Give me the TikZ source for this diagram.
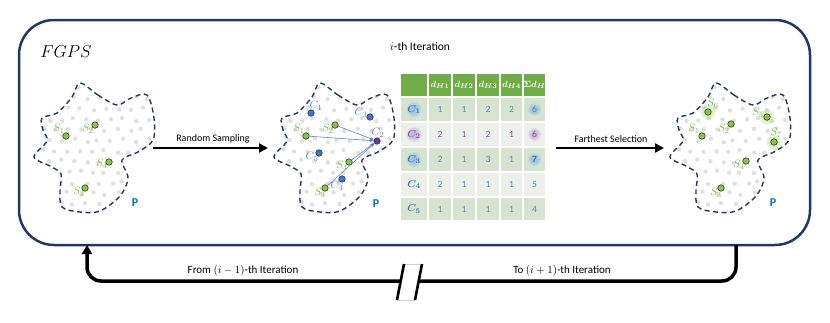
\documentclass[tikz,border=0pt]{standalone}
\usepackage{fontspec}
\setmainfont{Carlito}
\usetikzlibrary{arrows.meta}
\definecolor{navy}{HTML}{1F3864}
\definecolor{ptgreen}{HTML}{8CC63F}
\definecolor{lblgreen}{HTML}{7DB843}
\definecolor{ptblue}{HTML}{4472C4}
\definecolor{lblblue}{HTML}{5A82CC}
\definecolor{ptpurple}{HTML}{7030A0}
\definecolor{lblpurple}{HTML}{9460C0}
\definecolor{hdrgreen}{HTML}{70AD47}
\definecolor{rowdark}{HTML}{D5E3CF}
\definecolor{rowlight}{HTML}{EBF1E9}
\definecolor{numblue}{HTML}{5B84C8}
\definecolor{numpurple}{HTML}{8A4FB5}
\definecolor{pblue}{HTML}{0070C0}
\definecolor{dotgray}{HTML}{E0E0E0}
\definecolor{glowblue}{HTML}{7FB6EA}
\definecolor{glowpurple}{HTML}{B8A0CC}
\definecolor{glowgreen}{HTML}{B5DC8C}
\newcommand{\blobpath}{plot[smooth cycle, tension=0.55] coordinates {(80,83) (98,95) (117,105) (131,98) (147,95) (154,118) (153,140) (138,152) (122,160) (128,178) (120,196) (100,211) (80,212) (62,207) (60,190) (61,174) (50,166) (34,157) (47,141) (43,130) (42,118) (57,113) (72,97)}}
\newcommand{\myglow}[3]{\foreach \gk in {1,0.85,0.7,0.55,0.4}{\fill[#2, opacity=0.2] (#1) circle[radius={#3*\gk*1pt}];}}
\newcommand{\blobdots}{%
  \pgfmathsetseed{11}%
  \foreach \row in {0,...,12}{\foreach \col in {0,...,10}{%
    \pgfmathsetmacro\px{30+\col*12.5+mod(\row,2)*6+2.2*rand}%
    \pgfmathsetmacro\py{88+\row*10.5+2*rand}%
    \fill[dotgray] (\px,\py) circle[radius=2.2pt];}}}
\tikzset{
  spt/.style={circle, fill=ptgreen, draw=black!80, line width=0.6pt, inner sep=0pt, minimum size=6.5pt},
  cpt/.style={circle, fill=ptblue, draw=navy, line width=0.6pt, inner sep=0pt, minimum size=6.5pt},
  ppt/.style={circle, fill=ptpurple, draw=navy, line width=0.6pt, inner sep=0pt, minimum size=6.5pt},
  slbl/.style={text=lblgreen, font=\fontsize{11}{11}\selectfont, inner sep=0pt},
  clbl/.style={text=lblblue, font=\fontsize{11}{11}\selectfont, inner sep=0pt},
  plbl/.style={text=pblue, font=\fontsize{12}{12}\selectfont, inner sep=0pt},
  outline/.style={draw=navy, line width=1.4pt, dash pattern=on 5pt off 3.5pt},
  conn/.style={draw=lblblue, line width=0.6pt, -{Stealth[length=4pt,width=3.5pt]}},
  bigarrow/.style={draw=black, line width=2.5pt, -{Triangle[length=9pt,width=9pt]}},
  steptext/.style={font=\fontsize{10}{10}\selectfont, inner sep=0pt},
  hdr/.style={text=white, font=\boldmath\fontsize{9.5}{10}\selectfont, inner sep=0pt},
  num/.style={font=\fontsize{9.5}{10}\selectfont, inner sep=0pt},
  rowlbl/.style={text=ptblue, font=\boldmath\fontsize{10}{10}\selectfont, inner sep=0pt},
  fbline/.style={draw=black, line width=3.5pt},
  fbtext/.style={font=\fontsize{11}{11}\selectfont, inner sep=0pt}
}
\newcommand{\tabrow}[8]{%
  \node[num, text=#3] (#1a) at (440,#2) {#4};
  \node[num, text=#3] (#1b) at (464,#2) {#5};
  \node[num, text=#3] (#1c) at (488,#2) {#6};
  \node[num, text=#3] (#1d) at (511.5,#2) {#7};
  \node[num, text=#3] (#1e) at (534.5,#2) {#8};}
\begin{document}
\begin{tikzpicture}[x=1pt, y=-1pt]
\useasboundingbox (0,0) rectangle (830,322);
% frame
\draw[navy, line width=2.5pt, rounded corners=35pt] (19,20) rectangle (810,245);
\node[inner sep=0pt, font=\fontsize{18}{20}\selectfont] (title) at (66,52) {$FGPS$};
\node[inner sep=0pt, font=\fontsize{11.5}{12}\selectfont] (iter) at (420,47) {$i$-th Iteration};
% blobs
\foreach \bx in {0,240,636}{
  \begin{scope}[shift={(\bx,0)}]
    \begin{scope}
      \clip \blobpath;
      \blobdots
    \end{scope}
    \draw[outline] \blobpath;
  \end{scope}
}
% left blob points
\node[spt] (l1) at (66,136) {};
\node[spt] (l2) at (95,125) {};
\node[spt] (l4) at (109,162) {};
\node[spt] (l3) at (85,188) {};
\node[slbl] (ll1) at (59,129) {$S_1$};
\node[slbl] (ll2) at (88,129) {$S_2$};
\node[slbl] (ll4) at (102,164) {$S_4$};
\node[slbl] (ll3) at (79,192) {$S_3$};
\node[plbl] (pL) at (135,203) {$\mathbf{P}$};
% middle blob points
\node[spt] (m1) at (306,136) {};
\node[spt] (m2) at (335,125) {};
\node[spt] (m4) at (349,162) {};
\node[spt] (m3) at (325,188) {};
\node[cpt] (mc1) at (311,113) {};
\node[cpt] (mc3) at (370,117) {};
\node[ppt] (mc2) at (377,141) {};
\node[cpt] (mc5) at (319,153) {};
\node[cpt] (mc4) at (342,179) {};
\draw[conn] (m1) -- (mc2);
\draw[conn] (m2) -- (mc2);
\draw[conn] (m4) -- (mc2);
\draw[conn] (m3) -- (mc2);
\node[slbl] (ml1) at (299,129) {$S_1$};
\node[slbl] (ml2) at (328,129) {$S_2$};
\node[slbl] (ml4) at (342,166) {$S_4$};
\node[slbl] (ml3) at (320,193) {$S_3$};
\node[clbl] (mlc1) at (316,106) {$C_1$};
\node[clbl] (mlc3) at (361,113) {$C_3$};
\node[clbl, text=lblpurple] (mlc2) at (378,133) {$C_2$};
\node[clbl] (mlc5) at (312,157) {$C_5$};
\node[clbl] (mlc4) at (337,186) {$C_4$};
\node[plbl] (pM) at (376,204) {$\mathbf{P}$};
% right blob points
\coordinate (g6) at (708,112);
\coordinate (g5) at (767,117);
\coordinate (g7) at (774,142);
\myglow{g6}{glowgreen}{8}
\myglow{g5}{glowgreen}{8}
\myglow{g7}{glowgreen}{8}
\node[spt] (r1) at (702,136) {};
\node[spt] (r2) at (731,124) {};
\node[spt] (r4) at (746,161) {};
\node[spt] (r3) at (721,188) {};
\node[spt] (r6) at (g6) {};
\node[spt] (r5) at (g5) {};
\node[spt] (r7) at (g7) {};
\node[slbl] (rl1) at (694,129) {$S_1$};
\node[slbl] (rl2) at (724,129) {$S_2$};
\node[slbl] (rl4) at (739,165) {$S_4$};
\node[slbl] (rl3) at (716,193) {$S_3$};
\node[slbl] (rl6) at (713,104) {$S_6$};
\node[slbl] (rl5) at (758,113) {$S_5$};
\node[slbl] (rl7) at (776,133) {$S_7$};
\node[plbl] (pR) at (773,203) {$\mathbf{P}$};
% step arrows
\coordinate (a1s) at (153,148);
\coordinate (a1e) at (268,148);
\draw[bigarrow] (a1s) -- (a1e);
\node[steptext] (t1) at (213,139) {Random Sampling};
\coordinate (a2s) at (556,148);
\coordinate (a2e) at (664,148);
\draw[bigarrow] (a2s) -- (a2e);
\node[steptext] (t2) at (611,139) {Farthest Selection};
% table
\foreach \ya/\yb/\cc in {73/97/hdrgreen, 97/122/rowdark, 122/147/rowlight, 147/172/rowdark, 172/197/rowlight, 197/221/rowdark}{
  \foreach \xa/\xb in {400/428,428/452,452/476,476/500,500/523,523/546}{
    \fill[\cc] (\xa+0.7,\ya+0.7) rectangle (\xb-0.7,\yb-0.7);
  }
}
\node[hdr] (h1) at (440,85) {$d_{H1}$};
\node[hdr] (h2) at (464,85) {$d_{H2}$};
\node[hdr] (h3) at (488,85) {$d_{H3}$};
\node[hdr] (h4) at (511.5,85) {$d_{H4}$};
\node[hdr] (h5) at (534.5,85) {$\Sigma d_H$};
% glows
\coordinate (gc1) at (414,109.5);
\coordinate (gc2) at (414,134.5);
\coordinate (gc3) at (414,159.5);
\coordinate (gs1) at (534.5,109.5);
\coordinate (gs2) at (534.5,134.5);
\coordinate (gs3) at (534.5,159.5);
\myglow{gc1}{glowblue}{7.5}
\myglow{gc2}{glowpurple}{7.5}
\myglow{gc3}{glowblue}{7.5}
\myglow{gs1}{glowblue}{6.5}
\myglow{gs2}{glowpurple}{6.5}
\myglow{gs3}{glowblue}{6.5}
\node[rowlbl] (rc1) at (gc1) {$C_1$};
\node[rowlbl, text=numpurple] (rc2) at (gc2) {$C_2$};
\node[rowlbl] (rc3) at (gc3) {$C_3$};
\node[rowlbl] (rc4) at (414,184.5) {$C_4$};
\node[rowlbl] (rc5) at (414,209) {$C_5$};
\tabrow{ra}{109.5}{numblue}{1}{1}{2}{2}{6}
\tabrow{rb}{134.5}{numpurple}{2}{1}{2}{1}{6}
\tabrow{rd}{184.5}{numblue}{2}{1}{1}{1}{5}
\tabrow{re}{209}{numblue}{1}{1}{1}{1}{4}
\node[num, text=numblue] (rca) at (440,159.5) {2};
\node[num, text=numblue] (rcb) at (464,159.5) {1};
\node[num, text=numblue] (rcc) at (488,159.5) {3};
\node[num, text=numblue] (rcd) at (511.5,159.5) {1};
\node[num, text=ptblue, font=\bfseries\fontsize{9.5}{10}\selectfont] (rce) at (534.5,159.5) {7};
% feedback loop
\coordinate (fbR) at (736,245);
\coordinate (fbL) at (87,245);
\draw[fbline, rounded corners=14pt, -{Triangle[length=9pt,width=10pt]}] (fbR) -- (736,281) -- (87,281) -- (fbL);
\fill[white] (397,300) -- (404,264) -- (422,264) -- (415,300) -- cycle;
\draw[gray!35, line width=0.4pt] (404,264) -- (422,264) (397,300) -- (415,300);
\draw[black, line width=2.6pt] (397,300) -- (404,264) (415,300) -- (422,264);
\node[fbtext] (fb1) at (243,271) {From $(i-1)$-th Iteration};
\node[fbtext] (fb2) at (562,271) {To $(i+1)$-th Iteration};
\end{tikzpicture}
\end{document}
